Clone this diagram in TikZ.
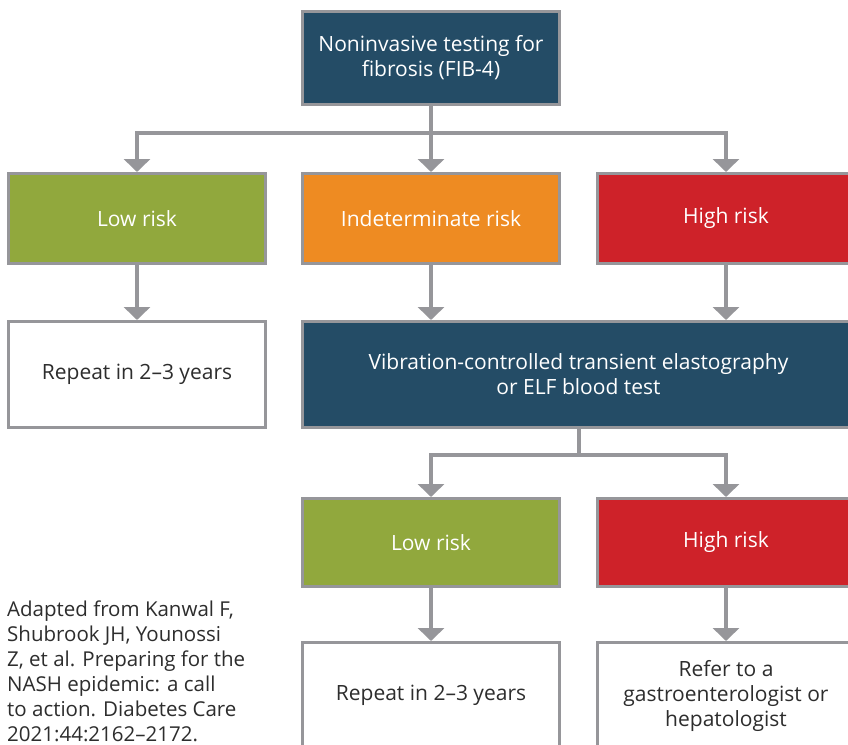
\documentclass[tikz,border=0pt]{standalone}
\usepackage{fontspec}
\setmainfont{Open Sans}
\usetikzlibrary{arrows.meta}
\definecolor{navy}{RGB}{36,76,102}
\definecolor{leaf}{RGB}{145,168,61}
\definecolor{amber}{RGB}{238,139,34}
\definecolor{crimson}{RGB}{206,34,41}
\definecolor{edge}{RGB}{150,150,154}
\definecolor{ink}{RGB}{45,45,45}
\tikzset{
  bx/.style={draw=edge, line width=3pt, minimum width=257pt, align=center, inner sep=0pt,
             font=\fontsize{21}{25}\selectfont},
  darkbx/.style={bx, fill=navy, text=white},
  lowbx/.style={bx, fill=leaf, text=white},
  midbx/.style={bx, fill=amber, text=white},
  highbx/.style={bx, fill=crimson, text=white},
  whitebx/.style={bx, fill=white, text=ink},
  conn/.style={draw=edge, line width=4pt},
  arr/.style={conn, -{Triangle[width=26pt,length=13pt]}}
}
\begin{document}
\begin{tikzpicture}[x=1pt,y=1pt]
\useasboundingbox (0,0) rectangle (848,-744);
\clip (0,0) rectangle (848,-744);
\fill[white] (0,0) rectangle (848,-744);
% row 1
\node[darkbx, minimum height=93pt] (top) at (431,-58) {Noninvasive testing for\\fibrosis (FIB-4)};
% row 2
\node[lowbx, minimum height=90pt] (low1) at (137,-218.5) {Low risk};
\node[midbx, minimum height=90pt] (ind1) at (431,-218.5) {Indeterminate risk};
\node[highbx, minimum height=90pt] (high1) at (726,-218.5) {High risk};
% row 3
\node[whitebx, minimum height=106pt] (rep1) at (137,-374.5) {Repeat in 2–3 years};
\node[darkbx, minimum height=106pt, minimum width=552pt] (vcte) at (578.5,-374.5) {Vibration-controlled transient elastography\\or ELF blood test};
% row 4
\node[lowbx, minimum height=88pt] (low2) at (431,-542.5) {Low risk};
\node[highbx, minimum height=88pt] (high2) at (726,-542.5) {High risk};
% row 5
\node[whitebx, minimum height=106pt] (rep2) at (431,-695.5) {Repeat in 2–3 years};
\node[whitebx, minimum height=106pt] (refer) at (726,-695.5) {Refer to a\\gastroenterologist or\\hepatologist};
% citation
\node[anchor=north west, align=left, inner sep=0pt, text=ink, font=\fontsize{20.5}{25}\selectfont] (cite) at (7,-601)
  {Adapted from Kanwal F,\\Shubrook JH, Younossi\\Z, et al. Preparing for the\\NASH epidemic: a call\\to action. Diabetes Care\\2021:44:2162–2172.};
% connectors
\coordinate (j1) at (431,-133);
\coordinate (j2) at (vcte.south |- 0,-455);
\draw[conn] (top.south) -- (j1);
\draw[arr] (j1) -| (low1.north);
\draw[arr] (j1) -| (high1.north);
\draw[arr] (j1) -- (ind1.north);
\draw[arr] (low1.south) -- (rep1.north);
\draw[arr] (ind1.south) -- (ind1.south |- vcte.north);
\draw[arr] (high1.south) -- (high1.south |- vcte.north);
\draw[conn] (vcte.south) -- (j2);
\draw[arr] (j2) -| (low2.north);
\draw[arr] (j2) -| (high2.north);
\draw[arr] (low2.south) -- (rep2.north);
\draw[arr] (high2.south) -- (refer.north);
\end{tikzpicture}
\end{document}
